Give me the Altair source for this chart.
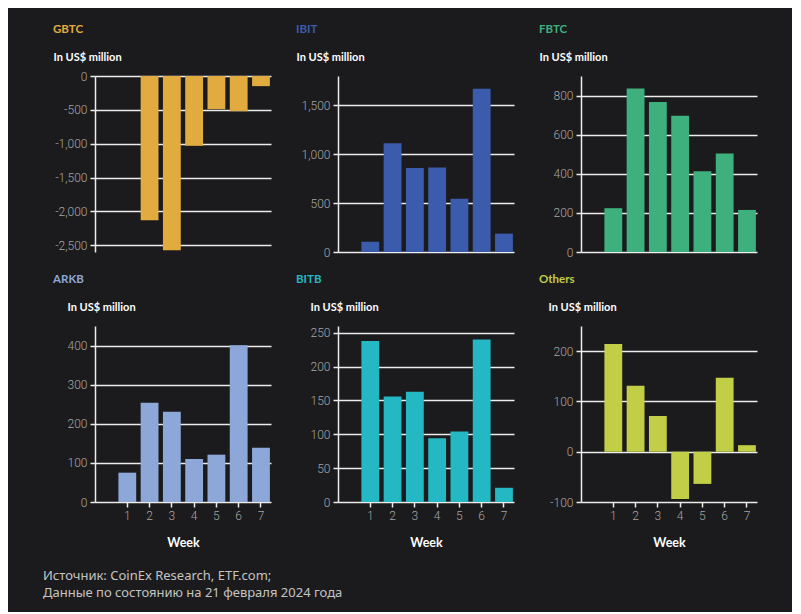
import altair as alt
import pandas as pd

weeks = [1, 2, 3, 4, 5, 6, 7]
slots = [0, 1, 2, 3, 4, 5, 6, 7]

gbtc = [None, -2130, -2575, -1030, -490, -520, -150]
ibit = [105, 1113, 860, 865, 545, 1670, 188]
fbtc = [224, 836, 767, 697, 413, 504, 215]
arkb = [75, 254, 231, 110, 121, 401, 139]
bitb = [238, 156, 163, 94, 104, 240, 21]
others = [214, 131, 71, -94, -64, 147, 13]

names = ["GBTC", "IBIT", "FBTC", "ARKB", "BITB", "Others"]
series = [gbtc, ibit, fbtc, arkb, bitb, others]
colors = ["#E1AB3F", "#3B5CAD", "#3EB07D", "#8DA8D8", "#23B8C4", "#C2CE45"]
domains = [[-2600, 0], [0, 1800], [0, 900], [0, 450], [0, 260], [-100, 250]]
tick_values = [
    [-2500, -2000, -1500, -1000, -500, 0],
    [0, 500, 1000, 1500],
    [0, 200, 400, 600, 800],
    [0, 100, 200, 300, 400],
    [0, 50, 100, 150, 200, 250],
    [-100, 0, 100, 200],
]
sub_x = [-42, -42, -42, -28, -28, -33]

BG = "#1b1b1d"
LINE = "#ececec"
LABEL = "#a6a6a6"
TFONT = "Lato"


def panel(i, show_x):
    df = pd.DataFrame({"week": weeks, "value": series[i]})
    if show_x:
        xaxis = alt.Axis(
            values=weeks, labelAngle=0, domain=False, ticks=True,
            tickColor=LINE, tickSize=5, tickWidth=1.5,
            labelColor=LABEL, labelFontSize=12, labelFont="Roboto",
            labelFontWeight=300, labelPadding=3,
            title="Week", titleFont=TFONT, titleFontSize=12.5,
            titleFontWeight="bold", titleColor="white", titlePadding=15,
        )
    else:
        xaxis = None
    yaxis = alt.Axis(
        values=tick_values[i], grid=True, gridColor=LINE, gridWidth=1.5,
        domain=True, domainColor=LINE, domainWidth=1.5,
        ticks=True, tickColor=LINE, tickSize=5, tickWidth=1.5,
        labelColor=LABEL, labelFontSize=12, labelFont="Roboto",
        labelFontWeight=300, labelPadding=3,
        labelExpr="replace(format(datum.value, ','), '\u2212', '-')",
        title="In US$ million", titleAngle=0, titleAlign="left",
        titleBaseline="middle", titleX=sub_x[i], titleY=-19,
        titleFont=TFONT, titleFontWeight="bold", titleFontSize=11,
        titleColor="white",
    )
    return (
        alt.Chart(df)
        .mark_bar(color=colors[i])
        .encode(
            x=alt.X("week:O",
                    scale=alt.Scale(domain=slots, paddingInner=0.2,
                                    paddingOuter=0.05),
                    axis=xaxis),
            y=alt.Y("value:Q",
                    scale=alt.Scale(domain=domains[i], nice=False, zero=False),
                    axis=yaxis),
        )
        .properties(
            width=176, height=176,
            title=alt.TitleParams(
                text=names[i], anchor="start", frame="group", dx=-42,
                offset=16, color=colors[i], font=TFONT, fontSize=11.5,
                fontWeight="bold",
            ),
        )
    )


row1 = alt.hconcat(panel(0, False), panel(1, False), panel(2, False), spacing=25)
row2 = alt.hconcat(panel(3, True), panel(4, True), panel(5, True), spacing=25)

chart = (
    alt.vconcat(row1, row2, spacing=15)
    .properties(
        background=BG,
        padding={"left": 35, "top": 15, "right": 35, "bottom": 12},
        title=alt.TitleParams(
            text=["Источник: CoinEx Research, ETF.com;",
                  "Данные по состоянию на 21 февраля 2024 года"],
            orient="bottom", anchor="start", frame="bounds", dx=-10,
            offset=21, color="#c4c4c4", font="Noto Sans", fontSize=13,
            fontWeight="normal", lineHeight=17,
        ),
    )
    .configure_view(stroke=None)
)

chart.save("out.html", embed_options={"renderer": "svg", "actions": False})
